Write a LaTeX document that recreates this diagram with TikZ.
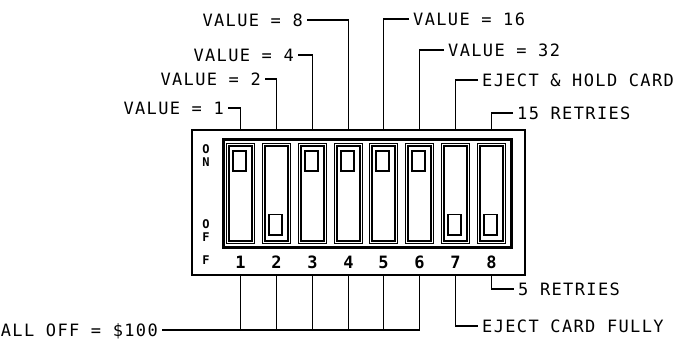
\documentclass[tikz,border=0pt]{standalone}
\usepackage{fontspec}
\newfontfamily\plotfont[LetterSpace=8]{DejaVu Sans Mono}
\newfontfamily\markfont{DejaVu Sans Mono}
\usetikzlibrary{positioning}

\tikzset{
    lbl/.style={font=\plotfont\fontsize{17}{20}\selectfont, inner sep=4pt, text height=12.4pt, text depth=0pt},
    num/.style={font=\markfont\bfseries\fontsize{17}{18}\selectfont, inner sep=0pt},
    onoff/.style={font=\markfont\bfseries\fontsize{12}{13}\selectfont, align=center, inner sep=0pt},
    slot/.style={draw, line width=1.9pt, double, double distance=0.6pt, minimum width=25.5pt, minimum height=97.5pt, inner sep=0pt, outer sep=0pt},
    knob/.style={draw, line width=1.6pt, minimum width=13.4pt, minimum height=20.4pt, inner sep=0pt},
    lead/.style={line width=1.3pt}
}

\begin{document}
\begin{tikzpicture}[x=1pt, y=-1pt]
    \useasboundingbox (0,0) rectangle (689,341);

    % case and switch housing
    \node[draw, line width=2.2pt, minimum width=333pt, minimum height=145pt, outer sep=0pt] (box) at (358.5,202.5) {};
    \node[draw, line width=3pt, minimum width=288pt, minimum height=108pt] (housing) at (367.5,193.5) {};

    % switches
    \node[slot] (s1) at (240.5,193.5) {};
    \node[slot] (s2) at (276.5,193.5) {};
    \node[slot] (s3) at (312.5,193.5) {};
    \node[slot] (s4) at (348.5,193.5) {};
    \node[slot] (s5) at (383.5,193.5) {};
    \node[slot] (s6) at (419.5,193.5) {};
    \node[slot] (s7) at (455.5,193.5) {};
    \node[slot] (s8) at (491.5,193.5) {};

    \node[knob] (k1) at (239.5,161) {};
    \node[knob] (k2) at (275.5,224.5) {};
    \node[knob] (k3) at (311.5,161) {};
    \node[knob] (k4) at (347.5,161) {};
    \node[knob] (k5) at (382.5,161) {};
    \node[knob] (k6) at (418.5,161) {};
    \node[knob] (k7) at (454.5,224.5) {};
    \node[knob] (k8) at (490.5,224.5) {};

    \node[onoff] (on) at (206,156) {O\\N};
    \node[onoff] (off) at (206,230.5) {O\\F};
    \node[onoff] (offf) at (206,260) {F};

    \node[num] (n1) at (240.5,262) {1};
    \node[num] (n2) at (276.5,262) {2};
    \node[num] (n3) at (312.5,262) {3};
    \node[num] (n4) at (348.5,262) {4};
    \node[num] (n5) at (383.5,262) {5};
    \node[num] (n6) at (419.5,262) {6};
    \node[num] (n7) at (455.5,262) {7};
    \node[num] (n8) at (491.5,262) {8};

    % labels above
    \node[lbl, anchor=east] (v1) at (228,108) {VALUE = 1};
    \node[lbl, anchor=east] (v2) at (265,79) {VALUE = 2};
    \node[lbl, anchor=east] (v4) at (298,55) {VALUE = 4};
    \node[lbl, anchor=east] (v8) at (307,20) {VALUE = 8};
    \node[lbl, anchor=west] (v16) at (409,19) {VALUE = 16};
    \node[lbl, anchor=west] (v32) at (444,50) {VALUE = 32};
    \node[lbl, anchor=west] (hold) at (478,80) {EJECT \& HOLD CARD};
    \node[lbl, anchor=west] (r15) at (513,113) {15 RETRIES};

    % labels below
    \node[lbl, anchor=west] (r5) at (514,289) {5 RETRIES};
    \node[lbl, anchor=west] (fully) at (478,326) {EJECT CARD FULLY};
    \node[lbl, anchor=east] (alloff) at (162,330) {ALL OFF = \$100};

    \draw[lead] (v1.east) -| (box.north -| s1);
    \draw[lead] (v2.east) -| (box.north -| s2);
    \draw[lead] (v4.east) -| (box.north -| s3);
    \draw[lead] (v8.east) -| (box.north -| s4);
    \draw[lead] (v16.west) -| (box.north -| s5);
    \draw[lead] (v32.west) -| (box.north -| s6);
    \draw[lead] (hold.west) -| (box.north -| s7);
    \draw[lead] (r15.west) -| (box.north -| s8);

    \draw[lead] (box.south -| s8) |- (r5.west);
    \draw[lead] (box.south -| s7) |- (fully.west);
    \draw[lead] (alloff.east) -- (alloff.east -| s6);
    \draw[lead] (box.south -| s1) -- (alloff.east -| s1);
    \draw[lead] (box.south -| s2) -- (alloff.east -| s2);
    \draw[lead] (box.south -| s3) -- (alloff.east -| s3);
    \draw[lead] (box.south -| s4) -- (alloff.east -| s4);
    \draw[lead] (box.south -| s5) -- (alloff.east -| s5);
    \draw[lead] (box.south -| s6) -- (alloff.east -| s6);
\end{tikzpicture}
\end{document}
